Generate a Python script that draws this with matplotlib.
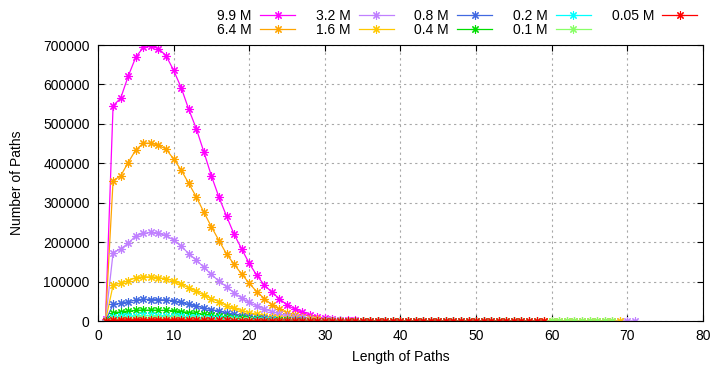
import matplotlib
matplotlib.use('Agg')
import matplotlib.pyplot as plt

plt.rcParams['font.family'] = ['Liberation Sans', 'DejaVu Sans']
plt.rcParams['font.size'] = 10

# Series labels and colours (legend order)
labels = ['9.9 M', '6.4 M', '3.2 M', '1.6 M', '0.8 M', '0.4 M', '0.2 M', '0.1 M', '0.05 M']
colors = ['#ff00ff', '#ffa500', '#c080ff', '#ffc800', '#4169e1',
          '#00dd00', '#00ffff', '#88ff66', '#ff0000']

# Number of paths per path length, starting at length 1
paths_99 = [5000, 546000, 565000, 621000, 669000, 694000, 697000, 691000, 673000, 636000,
            592000, 537000, 488000, 429000, 368000, 314000, 266000, 220000, 183000, 146000,
            116000, 91000, 73000, 56000, 41000, 30000, 22000, 15000, 10000, 7000,
            5000, 3500, 2400, 1600, 1000, 600, 300, 150]
paths_64 = [3000, 356000, 368000, 402000, 434000, 451000, 451000, 446000, 436000, 411000,
            383000, 349000, 315000, 276000, 239000, 204000, 170000, 144000, 119000, 96000,
            74000, 57000, 41000, 30000, 21000, 15000, 10000, 7000, 4800, 3200,
            2100, 1400, 900, 550, 300, 150, 60]
paths_32 = [1500, 173000, 183000, 197000, 216000, 222000, 225000, 222000, 217000, 205000,
            190000, 171000, 155000, 136000, 118000, 101000, 87000, 72000, 58000, 47000,
            38000, 30000, 24000, 18000, 13000, 9500, 7000, 5000, 3600, 2600,
            1800, 1300, 900, 600, 400, 300, 220, 160, 120, 85,
            60, 45, 32, 24, 17, 12, 9, 7, 5, 4,
            3, 3, 2, 2, 2, 1, 1, 1, 1, 1,
            1, 1, 1, 1, 1, 1, 1, 1, 1, 1, 1]
paths_16 = [800, 91000, 96000, 102000, 110000, 112000, 112000, 110000, 107000, 102000,
            94000, 84000, 76000, 66000, 57000, 49000, 39000, 32000, 26000, 21000,
            17000, 13000, 10000, 8000, 6000, 4500, 3300, 2400, 1700, 1200,
            850, 600, 420, 300, 210, 150, 110, 80, 55, 40,
            28, 20, 14, 10, 7, 5, 4, 3, 2, 2,
            2, 1, 1, 1, 1, 1, 1, 1, 1, 1,
            1, 1, 1, 1, 1, 1, 1, 1, 1]
paths_08 = [400, 42000, 45000, 49000, 53000, 55000, 54500, 54000, 53500, 51000,
            47000, 42000, 38000, 33000, 29000, 25000, 20000, 17000, 13500, 11000,
            8500, 6500, 5000, 3800, 2900, 2100, 1500, 1100, 800, 550,
            400, 280, 200, 140, 100, 70, 50, 35, 25, 18,
            12, 9, 6, 4, 3, 2, 2, 1, 1, 1, 1, 1]
paths_04 = [200, 21000, 23000, 25000, 27000, 27500, 27500, 27000, 27000, 26000,
            24000, 21500, 19500, 17000, 15000, 13000, 10500, 8500, 7000, 5500,
            4300, 3300, 2500, 1900, 1400, 1000, 750, 550, 400, 280,
            200, 140, 100, 70, 50, 35, 25, 18, 12, 9,
            6, 4, 3, 2, 2, 1, 1, 1, 1, 1,
            1, 1, 1, 1, 1, 1]
paths_02 = [100, 10500, 11500, 12500, 13500, 14000, 14000, 13800, 13500, 13000,
            12000, 11000, 9800, 8600, 7500, 6500, 5300, 4300, 3500, 2800,
            2200, 1700, 1300, 950, 700, 500, 370, 270, 200, 140,
            100, 70, 50, 35, 25, 18, 12, 9, 6, 4,
            3, 2, 2, 1, 1, 1, 1, 1, 1, 1,
            1, 1, 1, 1, 1, 1, 1, 1]
paths_01 = [50, 5300, 5800, 6300, 6800, 7000, 7000, 6900, 6700, 6500,
            6000, 5500, 4900, 4300, 3800, 3200, 2700, 2200, 1800, 1400,
            1100, 850, 650, 480, 350, 250, 180, 130, 90, 65,
            45, 32, 22, 16, 11, 8, 6, 4, 3, 2,
            2, 1, 1, 1, 1, 1, 1, 1, 1, 1,
            1, 1, 1, 1, 1, 1, 1, 1, 1, 1,
            1, 1, 1, 1, 1, 1, 1, 1]
paths_005 = [25, 2600, 2900, 3100, 3400, 3500, 3500, 3450, 3350, 3250,
             3000, 2750, 2450, 2150, 1900, 1600, 1350, 1100, 900, 700,
             550, 430, 330, 250, 180, 130, 95, 70, 50, 35,
             25, 18, 13, 9, 6, 4, 3, 2, 2, 1,
             1, 1, 1, 1, 1, 1, 1, 1, 1, 1,
             1, 1, 1, 1, 1, 1, 1, 1, 1]

series = [paths_99, paths_64, paths_32, paths_16, paths_08,
          paths_04, paths_02, paths_01, paths_005]

fig = plt.figure(figsize=(7.13, 3.68), dpi=100)
ax = fig.add_axes([0.1374, 0.1277, 0.8485, 0.75])

for values, label, color in zip(series, labels, colors):
    x = list(range(1, len(values) + 1))
    ax.plot(x, values, color=color, linewidth=0.9, marker=(8, 2, 0),
            markersize=6, markeredgewidth=0.8, label=label)

ax.set_xlim(0, 80)
ax.set_ylim(0, 700000)
ax.set_xticks(range(0, 81, 10))
ax.set_yticks(range(0, 700001, 100000))
ax.grid(True, color='#a8a8a8', linestyle=(0, (2, 3)), linewidth=0.8)
ax.tick_params(direction='in', top=True, right=True, length=4, pad=6)
ax.set_xlabel('Length of Paths', labelpad=5)
ax.set_ylabel('Number of Paths', labelpad=14)

fig.legend(loc='upper right', bbox_to_anchor=(0.995, 1.01), ncol=5, frameon=False,
           markerfirst=False, handlelength=2.5, handletextpad=0.6,
           columnspacing=1.5, labelspacing=0.0, fontsize=10)

fig.savefig('out.png', dpi=100)
